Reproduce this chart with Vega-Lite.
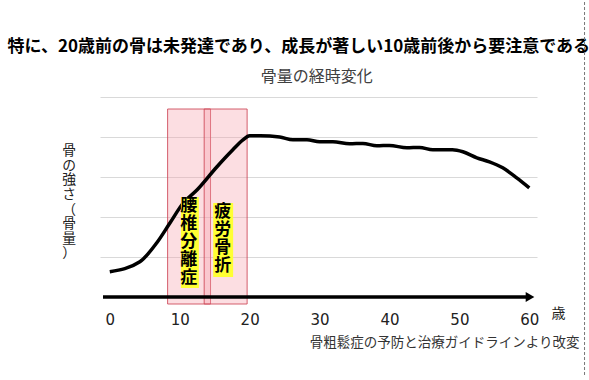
{
  "$schema": "https://vega.github.io/schema/vega-lite/v6.json",
  "width": 437,
  "height": 208,
  "autosize": {"type": "none"},
  "padding": {"left": 100, "top": 97, "right": 52, "bottom": 75},
  "background": "white",
  "config": {"view": {"stroke": null}},
  "datasets": {
    "curve": [
      {"age": 0, "v": 0.63},
      {"age": 4.3, "v": 0.88},
      {"age": 6.7, "v": 1.35},
      {"age": 8.6, "v": 1.85},
      {"age": 10.5, "v": 2.35},
      {"age": 12.5, "v": 2.68},
      {"age": 15.3, "v": 3.25},
      {"age": 17.6, "v": 3.68},
      {"age": 19, "v": 3.92},
      {"age": 20, "v": 4.03},
      {"age": 21.5, "v": 4.03},
      {"age": 24.3, "v": 4.0},
      {"age": 26.2, "v": 3.93},
      {"age": 28.2, "v": 3.93},
      {"age": 30, "v": 3.88},
      {"age": 31.9, "v": 3.88},
      {"age": 34.3, "v": 3.83},
      {"age": 36.2, "v": 3.84},
      {"age": 38.2, "v": 3.78},
      {"age": 40, "v": 3.79},
      {"age": 42.5, "v": 3.73},
      {"age": 44.3, "v": 3.74},
      {"age": 46.2, "v": 3.68},
      {"age": 49, "v": 3.68},
      {"age": 50.5, "v": 3.63},
      {"age": 52.5, "v": 3.48},
      {"age": 54.3, "v": 3.38},
      {"age": 56.2, "v": 3.23},
      {"age": 58.2, "v": 2.98},
      {"age": 60, "v": 2.73}
    ],
    "zones": [
      {"a0": 8.27, "a1": 14.41, "b0": -0.175, "b1": 4.7},
      {"a0": 13.5, "a1": 19.64, "b0": -0.175, "b1": 4.7}
    ],
    "tags": [
      {"a0": 10.17, "a1": 12.74, "b0": 0.225, "b1": 2.5, "ta": 11.31, "tv": 2.48, "label": "腰\n椎\n分\n離\n症"},
      {"a0": 14.79, "a1": 17.64, "b0": 0.5, "b1": 2.35, "ta": 16.17, "tv": 2.33, "label": "疲\n労\n骨\n折"}
    ],
    "baseline": [{"a0": -0.97, "a1": 60.1, "v": 0}],
    "arrow": [{"age": 60.1, "v": 0}],
    "heading": [{"age": 27.03, "v": 6.25, "label": "特に、20歳前の骨は未発達であり、成長が著しい10歳前後から要注意である"}],
    "subtitle": [{"age": 29.6, "v": 5.49, "label": "骨量の経時変化"}],
    "ylabel": [{"age": -5.83, "v": 3.82, "label": "骨\nの\n強\nさ\n（\n骨\n量\n）"}],
    "source": [{"age": 67.17, "v": -1.15, "label": "骨粗鬆症の予防と治療ガイドラインより改変"}],
    "frame": [{"age": 67.9, "b0": -1.95, "b1": 7.425}]
  },
  "layer": [
    {
      "data": {"name": "zones"},
      "mark": {"type": "rect", "fill": "#f7a1ad", "fillOpacity": 0.35, "stroke": "#cc4455", "strokeOpacity": 0.85, "strokeWidth": 1},
      "encoding": {
        "x": {
          "field": "a0", "type": "quantitative",
          "scale": {"domain": [-1.4, 61.1], "nice": false, "zero": false},
          "axis": {
            "values": [0, 10, 20, 30, 40, 50, 60],
            "domain": false, "ticks": false, "tickSize": 0, "grid": false,
            "labelFont": "DejaVu Sans", "labelFontSize": 15, "labelColor": "#222222",
            "labelPadding": 7, "labelFlush": false, "format": "d",
            "title": "歳", "titleFont": "Noto Sans CJK JP", "titleFontSize": 14,
            "titleFontWeight": "normal", "titleColor": "#222222",
            "titleX": 458, "titleY": 8, "titleBaseline": "middle", "titleAlign": "center"
          }
        },
        "x2": {"field": "a1"},
        "y": {
          "field": "b0", "type": "quantitative",
          "scale": {"domain": [-0.2, 5], "nice": false, "zero": false},
          "axis": {
            "values": [1, 2, 3, 4, 5],
            "domain": false, "ticks": false, "tickSize": 0, "labels": false,
            "grid": true, "gridColor": "#d9d9d9", "gridWidth": 1,
            "title": null
          }
        },
        "y2": {"field": "b1"}
      }
    },
    {
      "data": {"name": "curve"},
      "mark": {"type": "line", "color": "#000000", "strokeWidth": 3.5, "interpolate": "monotone"},
      "encoding": {
        "x": {"field": "age", "type": "quantitative"},
        "y": {"field": "v", "type": "quantitative"}
      }
    },
    {
      "data": {"name": "tags"},
      "mark": {"type": "rect", "fill": "#ffff33"},
      "encoding": {
        "x": {"field": "a0", "type": "quantitative"},
        "x2": {"field": "a1"},
        "y": {"field": "b0", "type": "quantitative"},
        "y2": {"field": "b1"}
      }
    },
    {
      "data": {"name": "tags"},
      "mark": {"type": "text", "font": "Noto Sans CJK JP", "fontSize": 17, "fontWeight": "bold", "color": "#000000", "lineBreak": "\n", "lineHeight": 18, "baseline": "top", "align": "center"},
      "encoding": {
        "x": {"field": "ta", "type": "quantitative"},
        "y": {"field": "tv", "type": "quantitative"},
        "text": {"field": "label"}
      }
    },
    {
      "data": {"name": "baseline"},
      "mark": {"type": "rule", "color": "#000000", "strokeWidth": 3.5},
      "encoding": {
        "x": {"field": "a0", "type": "quantitative"},
        "x2": {"field": "a1"},
        "y": {"field": "v", "type": "quantitative"}
      }
    },
    {
      "data": {"name": "arrow"},
      "mark": {"type": "point", "shape": "triangle-right", "size": 100, "filled": true, "color": "#000000", "opacity": 1},
      "encoding": {
        "x": {"field": "age", "type": "quantitative"},
        "y": {"field": "v", "type": "quantitative"}
      }
    },
    {
      "data": {"name": "heading"},
      "mark": {"type": "text", "font": "Noto Sans CJK JP", "fontSize": 17, "fontWeight": "bold", "color": "#000000", "align": "center", "baseline": "middle"},
      "encoding": {
        "x": {"field": "age", "type": "quantitative"},
        "y": {"field": "v", "type": "quantitative"},
        "text": {"field": "label"}
      }
    },
    {
      "data": {"name": "subtitle"},
      "mark": {"type": "text", "font": "Noto Sans CJK JP", "fontSize": 16, "color": "#404040", "align": "center", "baseline": "middle"},
      "encoding": {
        "x": {"field": "age", "type": "quantitative"},
        "y": {"field": "v", "type": "quantitative"},
        "text": {"field": "label"}
      }
    },
    {
      "data": {"name": "ylabel"},
      "mark": {"type": "text", "font": "Noto Sans CJK JP", "fontSize": 13.8, "color": "#222222", "lineBreak": "\n", "lineHeight": 14.6, "align": "center", "baseline": "top"},
      "encoding": {
        "x": {"field": "age", "type": "quantitative"},
        "y": {"field": "v", "type": "quantitative"},
        "text": {"field": "label"}
      }
    },
    {
      "data": {"name": "source"},
      "mark": {"type": "text", "font": "Noto Sans CJK JP", "fontSize": 13.5, "color": "#333333", "align": "right", "baseline": "middle"},
      "encoding": {
        "x": {"field": "age", "type": "quantitative"},
        "y": {"field": "v", "type": "quantitative"},
        "text": {"field": "label"}
      }
    },
    {
      "data": {"name": "frame"},
      "mark": {"type": "rule", "color": "#777777", "strokeWidth": 1, "strokeDash": [3, 2]},
      "encoding": {
        "x": {"field": "age", "type": "quantitative"},
        "y": {"field": "b0", "type": "quantitative"},
        "y2": {"field": "b1"}
      }
    }
  ]
}
